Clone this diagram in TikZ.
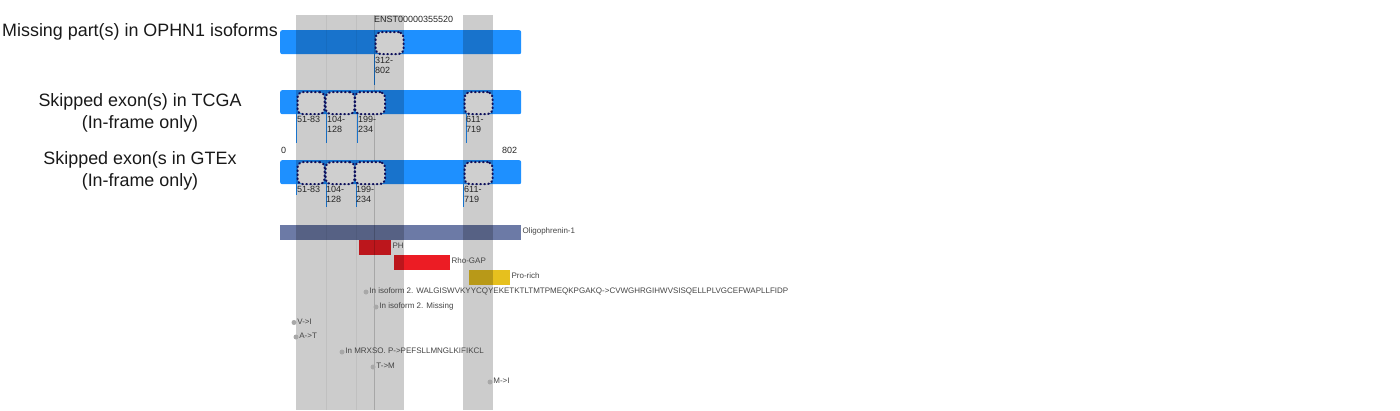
\documentclass[tikz,border=0pt]{standalone}
\usepackage{fontspec}
\setmainfont{Liberation Sans}
\usetikzlibrary{positioning}
\definecolor{barblue}{HTML}{1E90FF}
\definecolor{boxnavy}{HTML}{10105A}
\definecolor{domslate}{HTML}{6C7AA6}
\definecolor{domred}{HTML}{EC1C24}
\definecolor{domgold}{HTML}{E6C01E}
\definecolor{txtgray}{HTML}{444444}
\definecolor{dotgray}{HTML}{A8A8A8}
\tikzset{track/.style={fill=barblue, rounded corners=2pt, inner sep=0pt, minimum width=241, minimum height=24, anchor=north west}}
\tikzset{exbox/.style={draw=boxnavy, fill=black!19, line width=2.2pt, dash pattern=on 0.6pt off 3.4pt, line cap=round, rounded corners=5pt, inner sep=0pt, minimum height=22, anchor=north west}}
\tikzset{band/.style={fill=black, fill opacity=0.2}}
\tikzset{tickline/.style={draw=barblue, line width=0.8pt}}
\tikzset{rowlab/.style={font=\fontsize{17.9}{22}\selectfont, align=center, inner sep=0pt, anchor=north, text=black!90}}
\tikzset{small/.style={font=\fontsize{9}{10}\selectfont, inner sep=0pt, align=left, anchor=north west, text=black!85}}
\tikzset{ann/.style={font=\fontsize{8}{9}\selectfont, text=txtgray, inner sep=0pt}}
\tikzset{dom/.style={inner sep=0pt, minimum height=14.5, anchor=north west}}
\tikzset{site/.style={circle, fill=dotgray, inner sep=0pt, minimum size=5pt}}

\begin{document}
\begin{tikzpicture}[x=1pt, y=-1pt]
        \useasboundingbox (0,0) rectangle (1400,410);

        % row titles
        \node[rowlab] (t1) at (140,23.5) {Missing part(s) in OPHN1 isoforms};
        \node[rowlab] (t2) at (140,93) {Skipped exon(s) in TCGA\\(In-frame only)};
        \node[rowlab] (t3) at (140,151) {Skipped exon(s in GTEx\\(In-frame only)};

        % tracks
        \node[track] (iso) at (280,30) {};
        \node[track] (tcga) at (280,90) {};
        \node[track] (gtex) at (280,160) {};

        \coordinate (m1s) at (374,54); \coordinate (m1e) at (374,85);
        \draw[tickline] (m1s) -- (m1e);

        \coordinate (a1s) at (296,114); \coordinate (a1e) at (296,143);
        \coordinate (a2s) at (326,114); \coordinate (a2e) at (326,143);
        \coordinate (a3s) at (357,114); \coordinate (a3e) at (357,143);
        \coordinate (a4s) at (466,114); \coordinate (a4e) at (466,143);
        \draw[tickline] (a1s) -- (a1e);
        \draw[tickline] (a2s) -- (a2e);
        \draw[tickline] (a3s) -- (a3e);
        \draw[tickline] (a4s) -- (a4e);

        \coordinate (b1s) at (296,184); \coordinate (b1e) at (296,195);
        \coordinate (b2s) at (326,184); \coordinate (b2e) at (326,207);
        \coordinate (b3s) at (356,184); \coordinate (b3e) at (356,207);
        \coordinate (b4s) at (463,184); \coordinate (b4e) at (463,207);
        \draw[tickline] (b1s) -- (b1e);
        \draw[tickline] (b2s) -- (b2e);
        \draw[tickline] (b3s) -- (b3e);
        \draw[tickline] (b4s) -- (b4e);

        % domains
        \node[dom, fill=domslate, minimum width=241] (olig) at (280,225) {};
        \node[dom, fill=domred, minimum width=32] (ph) at (359,240) {};
        \node[dom, fill=domred, minimum width=56] (gap) at (394,255) {};
        \node[dom, fill=domgold, minimum width=41] (pro) at (469,270) {};

        % highlighted bands
        \fill[band] (296,15) rectangle (404,410);
        \fill[band] (463,15) rectangle (493,410);
        \draw[black, opacity=0.06] (326,15) -- (326,410);
        \draw[black, opacity=0.06] (356,15) -- (356,410);
        \draw[black, opacity=0.18, line width=0.8pt] (374,15) -- (374,410);

        % skipped / missing parts
        \node[exbox, minimum width=28] (m1) at (374.5,31) {};

        \node[exbox, minimum width=27] (a1) at (296.5,91) {};
        \node[exbox, minimum width=29] (a2) at (324.5,91) {};
        \node[exbox, minimum width=30] (a3) at (354,91) {};
        \node[exbox, minimum width=28] (a4) at (463.5,91) {};

        \node[exbox, minimum width=27] (b1) at (296.5,161) {};
        \node[exbox, minimum width=29] (b2) at (324.5,161) {};
        \node[exbox, minimum width=30] (b3) at (354,161) {};
        \node[exbox, minimum width=28] (b4) at (463.5,161) {};

        % texts
        \node[small, anchor=west] (enst) at (374,19.5) {ENST00000355520};
        \node[small] (m1l) at (375,57) {312-\\802};

        \node[small] (a1l) at (297,116.5) {51-83};
        \node[small] (a2l) at (327,116.5) {104-\\128};
        \node[small] (a3l) at (358,116.5) {199-\\234};
        \node[small] (a4l) at (466,116.5) {611-\\719};

        \node[small] (zero) at (281,147.5) {0};
        \node[small] (len) at (502,147.5) {802};

        \node[small] (b1l) at (297,186.5) {51-83};
        \node[small] (b2l) at (326,186.5) {104-\\128};
        \node[small] (b3l) at (356,186.5) {199-\\234};
        \node[small] (b4l) at (464,186.5) {611-\\719};

        \node[ann, right=1pt of olig, yshift=1pt] (oligl) {Oligophrenin-1};
        \node[ann, right=1pt of ph, yshift=2pt] (phl) {PH};
        \node[ann, right=1pt of gap, yshift=2pt] (gapl) {Rho-GAP};
        \node[ann, right=1pt of pro, yshift=1.5pt] (prol) {Pro-rich};

        % variant sites
        \node[site] (s1) at (366,292) {};
        \node[site] (s2) at (376,307) {};
        \node[site] (s3) at (294,322.5) {};
        \node[site] (s4) at (296,337) {};
        \node[site] (s5) at (342,352) {};
        \node[site] (s6) at (373,367) {};
        \node[site] (s7) at (490,382) {};

        \node[ann, right=0.5pt of s1, yshift=1pt] (s1l) {In isoform 2. WALGISWVKYYCQYEKETKTLTMTPMEQKPGAKQ->CVWGHRGIHWVSISQELLPLVGCEFWAPLLFIDP};
        \node[ann, right=0.5pt of s2, yshift=1pt] (s2l) {In isoform 2. Missing};
        \node[ann, right=0.5pt of s3, yshift=1pt] (s3l) {V->I};
        \node[ann, right=0.5pt of s4, yshift=1pt] (s4l) {A->T};
        \node[ann, right=0.5pt of s5, yshift=1pt] (s5l) {In MRXSO. P->PEFSLLMNGLKIFIKCL};
        \node[ann, right=0.5pt of s6, yshift=1pt] (s6l) {T->M};
        \node[ann, right=0.5pt of s7, yshift=1pt] (s7l) {M->I};
\end{tikzpicture}
\end{document}
